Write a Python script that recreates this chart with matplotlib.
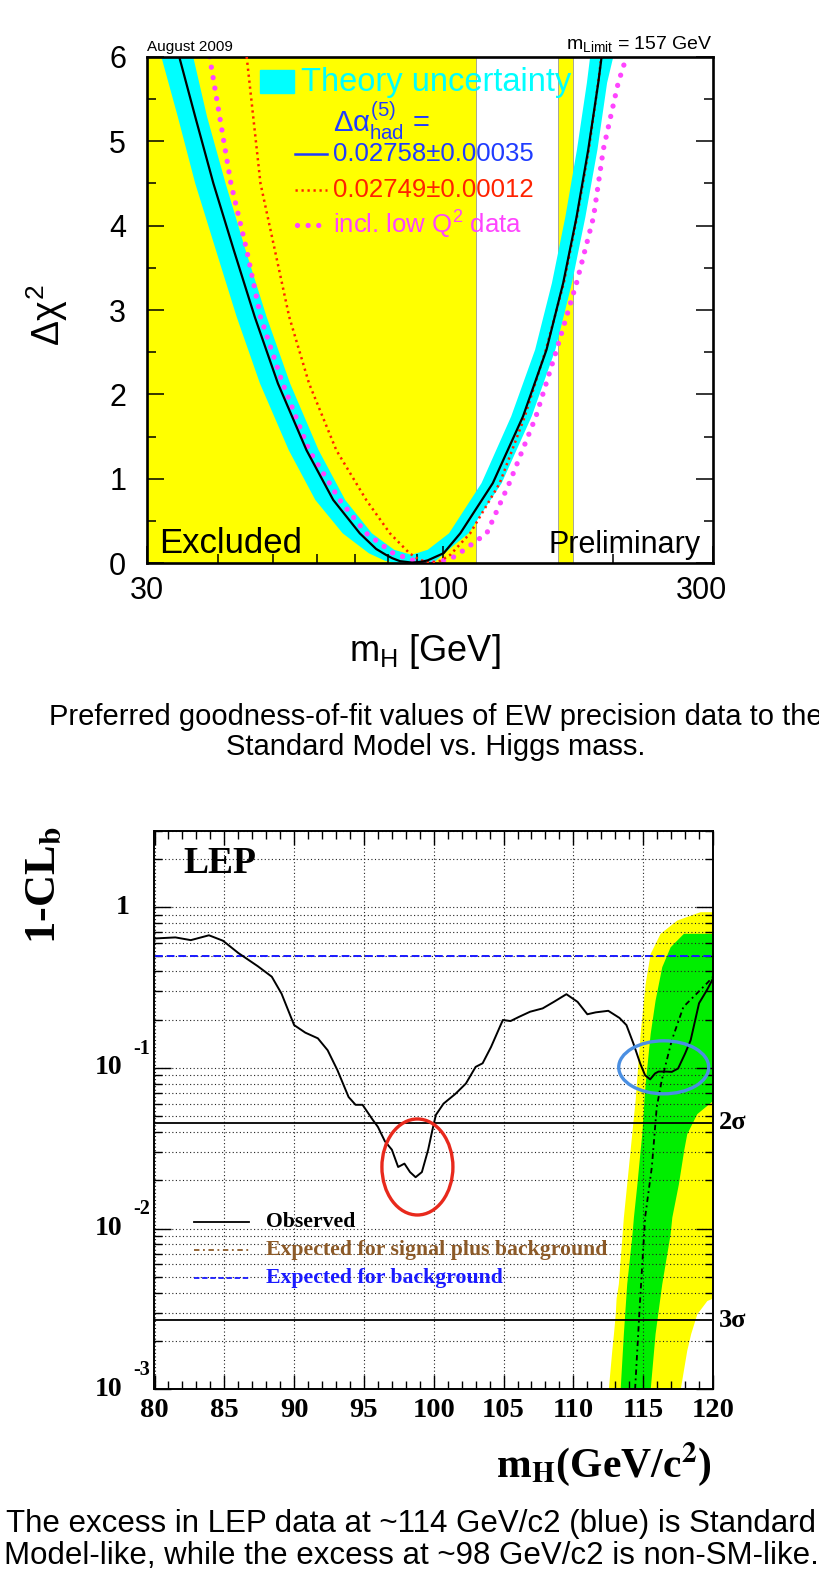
import numpy as np
import matplotlib
matplotlib.use("Agg")
import matplotlib.pyplot as plt
import matplotlib.transforms as mtransforms
from matplotlib.patches import Ellipse, Rectangle
from matplotlib.ticker import FixedLocator, LogLocator, NullFormatter

plt.rcParams['font.family'] = ['Liberation Sans', 'DejaVu Sans']
plt.rcParams['mathtext.fontset'] = 'custom'
plt.rcParams['mathtext.rm'] = 'Liberation Sans'
plt.rcParams['mathtext.it'] = 'Liberation Sans'
plt.rcParams['mathtext.bf'] = 'Liberation Sans:bold'

# ---------------- top panel: blue-band plot (Delta chi^2 vs mH) ----------------
lep_limit = 114.4
tev_excl = (160.0, 170.0)

mh_fit = [34.2, 36.5, 39.3, 42.7, 46.5, 51.1, 57.4, 64.0, 71.3, 76.2, 79.3, 81.4, 84.0,
          88.2, 92.0, 94.0, 100.3, 107.3, 122.5, 138.5, 152.4, 163.1, 172.2, 180.6,
          188.1, 190.7]
chi2_fit = [6.0, 5.29, 4.5, 3.71, 2.92, 2.13, 1.34, 0.75, 0.355, 0.17, 0.1, 0.06, 0.025,
            0.008, 0.02, 0.035, 0.12, 0.355, 0.95, 1.74, 2.53, 3.32, 4.1, 4.9, 5.69, 6.0]

# theory band: outer edge (left branch down, right branch up) and inner edge
band_out_mh = [31.8, 34.0, 36.5, 39.7, 43.2, 47.5, 53.4, 59.5, 66.5, 74.0, 79.0, 83.0,
               96.0, 104.0, 111.0, 127.0, 143.5, 158.0, 169.0, 178.5, 187.5, 195.0, 200.0]
band_out_chi2 = [6.0, 5.29, 4.5, 3.71, 2.92, 2.13, 1.34, 0.75, 0.355, 0.118, 0.03, 0.0,
                 0.0, 0.2, 0.355, 0.95, 1.74, 2.53, 3.32, 4.1, 4.9, 5.69, 6.0]
band_in_mh = [36.2, 38.3, 41.3, 44.8, 48.8, 53.7, 60.3, 67.2, 74.9, 82.0, 88.0, 94.0,
              102.5, 117.0, 132.0, 145.5, 155.8, 164.5, 172.5, 179.6, 182.0]
band_in_chi2 = [6.0, 5.29, 4.5, 3.71, 2.92, 2.13, 1.34, 0.75, 0.355, 0.16, 0.1, 0.16,
                0.355, 0.95, 1.74, 2.53, 3.32, 4.1, 4.9, 5.69, 6.0]

mh_alt = [45.0, 47.6, 53.5, 58.0, 64.8, 73.2, 80.6, 87.3, 91.0, 95.0, 99.0, 103.0,
          111.7, 126.0, 139.5, 152.0, 163.5, 172.5, 181.0, 188.0, 190.5]
chi2_alt = [6.0, 4.5, 2.92, 2.13, 1.34, 0.75, 0.355, 0.118, 0.04, 0.01, 0.03, 0.1,
            0.355, 0.95, 1.74, 2.53, 3.32, 4.1, 4.9, 5.69, 6.0]

mh_lowq = [38.7, 42.2, 45.0, 47.6, 52.1, 58.0, 65.7, 73.2, 81.7, 90.0, 97.0, 105.0,
           119.5, 131.0, 146.0, 158.8, 172.2, 184.5, 192.0, 204.0, 211.0]
chi2_lowq = [6.0, 4.5, 3.71, 2.92, 2.13, 1.34, 0.75, 0.355, 0.118, 0.02, 0.0, 0.08,
             0.355, 0.95, 1.74, 2.53, 3.32, 4.1, 4.9, 5.69, 6.0]

# ---------------- bottom panel: LEP 1-CLb ----------------
mh_obs = [80.0, 81.5, 82.6, 83.9, 84.9, 86.0, 87.4, 88.4, 89.1, 90.0, 90.8, 91.7, 92.4,
          93.1, 93.9, 94.4, 94.9, 95.6, 96.0, 96.5, 97.0, 97.45, 97.9, 98.3, 98.7, 99.15,
          99.6, 99.9, 100.15, 100.7, 101.55, 102.3, 103.0, 103.5, 104.1, 104.95, 105.5,
          106.1, 106.9, 107.8, 108.6, 109.5, 110.3, 111.0, 111.6, 112.5, 113.3, 113.8,
          114.3, 114.78, 115.14, 115.5, 115.85, 116.1, 116.6, 117.05, 117.5, 118.0,
          118.4, 119.0, 119.56, 120.0]
clb_obs = [0.64, 0.65, 0.625, 0.67, 0.62, 0.52, 0.43, 0.37, 0.29, 0.185, 0.166, 0.153,
           0.129, 0.097, 0.066, 0.059, 0.059, 0.048, 0.043, 0.035, 0.031, 0.0242, 0.0254,
           0.0225, 0.0209, 0.0225, 0.031, 0.041, 0.051, 0.06, 0.069, 0.08, 0.1016, 0.107,
           0.135, 0.199, 0.196, 0.208, 0.224, 0.235, 0.258, 0.288, 0.258, 0.216, 0.222,
           0.227, 0.205, 0.185, 0.142, 0.107, 0.09, 0.085, 0.0925, 0.095, 0.095, 0.0946,
           0.0993, 0.123, 0.149, 0.253, 0.305, 0.36]

mh_sb = [114.42, 114.78, 115.14, 115.62, 115.97, 116.33, 117.05, 117.88, 118.84, 119.67, 120.0]
clb_sb = [0.001, 0.0036, 0.0118, 0.0242, 0.057, 0.084, 0.149, 0.24, 0.291, 0.344, 0.37]

mh_b = [80.0, 120.0]
clb_b = [0.5, 0.5]

# +-2 sigma (yellow) and +-1 sigma (green) bands, given as mH edges per 1-CLb level
y2_lvl = [0.001, 0.00175, 0.00222, 0.00295, 0.00357, 0.0037, 0.00454, 0.0118, 0.0308,
          0.063, 0.164, 0.336, 0.517, 0.689, 0.834, 0.94]
y2_lo = [112.5, 112.75, 112.87, 113.0, 113.05, 113.06, 113.22, 113.58, 114.06,
         114.42, 114.78, 115.14, 115.5, 116.21, 117.41, 119.08]
y2_hi = [117.65, 118.12, 118.4, 118.84, 119.56, 120.0, 120.0, 120.0, 120.0,
         120.0, 120.0, 120.0, 120.0, 120.0, 120.0, 120.0]

y1_lvl = [0.001, 0.00222, 0.00454, 0.0093, 0.0118, 0.019, 0.0308, 0.039, 0.052, 0.063,
          0.08, 0.164, 0.264, 0.427, 0.568, 0.689]
y1_lo = [113.35, 113.58, 113.82, 114.2, 114.3, 114.55, 114.78, 114.9, 115.0, 115.05,
         115.14, 115.5, 115.85, 116.33, 116.93, 117.88]
y1_hi = [115.5, 115.85, 116.33, 116.93, 117.05, 117.52, 117.9, 118.12, 118.84, 120.0,
         120.0, 120.0, 120.0, 120.0, 120.0, 120.0]

cl_2sigma = 0.0455
cl_3sigma = 0.0027
excess_sm = (116.47, 0.101)     # blue ring
excess_nonsm = (98.83, 0.0242)  # red ring

W, H = 820, 1579
fig = plt.figure(figsize=(W / 100, H / 100), dpi=100)

# ======================= top panel =======================
ax1 = fig.add_axes([147 / W, 1 - 563.3 / H, 566 / W, 506.6 / H])
ax1.set_xscale('log')
ax1.set_xlim(30, 300)
ax1.set_ylim(0, 6)

ax1.axvspan(30, lep_limit, facecolor='#ffff00', edgecolor='#999999', lw=0.6, zorder=0)
ax1.axvspan(tev_excl[0], tev_excl[1], facecolor='#ffff00', edgecolor='#999999', lw=0.6, zorder=0)

px = band_out_mh + band_in_mh[::-1]
py = band_out_chi2 + band_in_chi2[::-1]
ax1.fill(px, py, color='#00ffff', lw=0, zorder=1)

ax1.plot(mh_lowq, chi2_lowq, color='#ff44ff', lw=3.8, ls=(0, (0.01, 2.0)),
         dash_capstyle='round', zorder=2)
ax1.plot(mh_alt, chi2_alt, color='#ff2200', lw=1.8, ls=(0, (0.9, 1.5)), zorder=3)
ax1.plot(mh_fit, chi2_fit, color='black', lw=1.6, zorder=4)

ax1.xaxis.set_major_locator(FixedLocator([30, 100, 300]))
ax1.xaxis.set_minor_locator(FixedLocator([40, 50, 60, 70, 80, 90, 200]))
ax1.xaxis.set_minor_formatter(NullFormatter())
ax1.set_xticklabels(['30', '100', '300'])
ax1.set_yticks(range(0, 7))
ax1.set_yticks(np.arange(0.5, 6, 1.0), minor=True)
ax1.tick_params(which='both', direction='in', top=False, right=True, width=1.1,
                labelsize=22)
ax1.tick_params(which='major', length=12)
ax1.tick_params(which='minor', length=6.3)
ax1.tick_params(axis='y', pad=15)
ax1.tick_params(axis='x', pad=9)
for s in ax1.spines.values():
    s.set_linewidth(1.9)
shift = mtransforms.ScaledTranslation(-0.12, 0, fig.dpi_scale_trans)
lab = ax1.get_xticklabels()[-1]
lab.set_transform(lab.get_transform() + shift)

def a1(xp, yp):
    return ((xp - 147) / 566, (563.3 - yp) / 506.6)

ax1.add_patch(Rectangle(a1(260, 93), 33.7 / 566, 23 / 506.6, transform=ax1.transAxes,
                        color='#00ffff', zorder=5))
ax1.text(*a1(301, 82), 'Theory uncertainty', transform=ax1.transAxes, color='#00ffff',
         fontsize=23.5, va='center', zorder=5)
ax1.text(*a1(333, 121), r'$\Delta\alpha^{(5)}_{\rm had}$ =', transform=ax1.transAxes,
         color='#1f3cff', fontsize=21, va='center', zorder=5)
ax1.plot([a1(295, 0)[0], a1(327, 0)[0]], [a1(0, 154)[1]] * 2, transform=ax1.transAxes,
         color='#1f3cff', lw=1.8, zorder=5)
ax1.text(*a1(333, 154), '0.02758\u00b10.00035', transform=ax1.transAxes,
         color='#1f3cff', fontsize=18.5, va='center', zorder=5)
ax1.plot([a1(295, 0)[0], a1(327, 0)[0]], [a1(0, 190)[1]] * 2, transform=ax1.transAxes,
         color='#ff2200', lw=1.8, ls=(0, (0.9, 1.5)), zorder=5)
ax1.text(*a1(333, 190), '0.02749\u00b10.00012', transform=ax1.transAxes,
         color='#ff2200', fontsize=18.5, va='center', zorder=5)
ax1.plot([a1(297, 0)[0], a1(327, 0)[0]], [a1(0, 225)[1]] * 2, transform=ax1.transAxes,
         color='#ff44ff', lw=3.8, ls=(0, (0.01, 2.0)), dash_capstyle='round', zorder=5)
ax1.text(*a1(333, 225), r'incl. low Q$^2$ data', transform=ax1.transAxes,
         color='#ff44ff', fontsize=18.5, va='center', zorder=5)
ax1.text(*a1(159, 553), 'Excluded', transform=ax1.transAxes, fontsize=25,
         va='baseline', zorder=5)
ax1.text(*a1(701, 553), 'Preliminary', transform=ax1.transAxes, fontsize=22,
         va='baseline', ha='right', zorder=5)

fig.text(147 / W, 1 - 51 / H, 'August 2009', fontsize=11, va='baseline')
fig.text(712 / W, 1 - 49 / H, r'm$_{\rm Limit}$ = 157 GeV', fontsize=14,
         va='baseline', ha='right')
fig.text(47 / W, 1 - 315 / H, r'$\Delta\chi^2$', fontsize=27, rotation=90,
         ha='center', va='center')
fig.text(425 / W, 1 - 652 / H, r'm$_{\rm H}$ [GeV]', fontsize=26, ha='center', va='center')
fig.text(436 / W, 1 - 732 / H,
         'Preferred goodness-of-fit values of EW precision data to the\n'
         'Standard Model vs. Higgs mass.', fontsize=21, ha='center', va='center',
         linespacing=1.07)

# ======================= bottom panel =======================
serif = {'family': 'Liberation Serif', 'weight': 'bold'}
ax2 = fig.add_axes([154.5 / W, 1 - 1389.3 / H, 558.5 / W, 558.6 / H])
ax2.set_yscale('log')
ax2.set_xlim(80, 120)
ax2.set_ylim(1e-3, 3)

ax2.fill_betweenx(y2_lvl, y2_lo, y2_hi, color='#ffff00', lw=0, zorder=0)
ax2.fill_betweenx(y1_lvl, y1_lo, y1_hi, color='#00ee00', lw=0, zorder=0.5)

ax2.set_xticks(np.arange(80, 121, 5))
ax2.set_xticks(np.arange(80, 121, 1), minor=True)
ax2.yaxis.set_major_locator(LogLocator(base=10, numticks=10))
ax2.yaxis.set_minor_locator(LogLocator(base=10, subs=np.arange(2, 10), numticks=20))
ax2.yaxis.set_major_formatter(NullFormatter())
ax2.yaxis.set_minor_formatter(NullFormatter())
ax2.grid(True, which='major', axis='x', color='#222222', lw=0.8, ls=(0, (1, 2.2)))
ax2.grid(True, which='both', axis='y', color='#222222', lw=0.8, ls=(0, (1, 2.2)))
for gl in ax2.get_xgridlines() + ax2.get_ygridlines():
    gl.set_zorder(1)

ax2.axhline(cl_2sigma, color='black', lw=1.3, zorder=2)
ax2.axhline(cl_3sigma, color='black', lw=1.3, zorder=2)
ax2.plot(mh_b, clb_b, color='#1a1aff', lw=1.4, ls=(0, (4, 2)), zorder=3)
ax2.plot(mh_sb, clb_sb, color='black', lw=1.3, ls=(0, (3, 2, 1, 2)), zorder=3)
ax2.plot(mh_obs, clb_obs, color='black', lw=1.4, zorder=4)

ax2.tick_params(which='both', direction='in', top=True, right=True, width=1.0)
ax2.tick_params(axis='x', which='major', length=10, pad=6)
ax2.tick_params(axis='x', which='minor', length=5.5)
ax2.tick_params(axis='y', which='major', length=12)
ax2.tick_params(axis='y', which='minor', length=6)
ax2.set_xticklabels([str(v) for v in range(80, 121, 5)], fontdict=serif, fontsize=20.5)
for s in ax2.spines.values():
    s.set_linewidth(1.4)
    s.set_zorder(6)

ytr = ax2.get_yaxis_transform()
ytr_up = mtransforms.offset_copy(ytr, fig=fig, x=0, y=14, units='points')
ax2.text(-0.044, 1.0, '1', transform=ytr, ha='right', va='center', fontsize=20, **serif)
for e in (-1, -2, -3):
    ax2.text(-0.058, 10.0 ** e, '10', transform=ytr, ha='right', va='center',
             fontsize=20, **serif)
    ax2.text(-0.0385, 10.0 ** e, '%d' % e, transform=ytr_up, ha='left', va='center',
             fontsize=14.5, **serif)
ax2.text(1.011, cl_2sigma, '2\u03c3', transform=ytr, ha='left', va='center',
         fontsize=19, **serif)
ax2.text(1.011, cl_3sigma, '3\u03c3', transform=ytr, ha='left', va='center',
         fontsize=19, **serif)

ax2.text(0.051, 0.924, 'LEP', transform=ax2.transAxes, fontsize=27, va='baseline',
         **serif)

def a2(xp, yp):
    return ((xp - 154.5) / 558.5, (1389.3 - yp) / 558.6)

leg = [('Observed', 'black', 'black', '-', 1221.7),
       ('Expected for signal plus background', '#8c5a28', '#8c5a28', (0, (3, 2, 1, 2)), 1250),
       ('Expected for background', '#1a1aff', '#1a1aff', (0, (3, 1.5)), 1278)]
for txt, lc, tc, ls, yy in leg:
    x0, y0 = a2(193.7, yy)
    x1, _ = a2(249, yy)
    ax2.plot([x0, x1], [y0, y0], transform=ax2.transAxes, color=lc, ls=ls, lw=1.3, zorder=5)
    ax2.text(a2(266, yy)[0], y0, txt, transform=ax2.transAxes, color=tc, fontsize=15.7,
             va='center', zorder=5, **serif)

def ring(center, w, h, color):
    cx, cy = ax2.transAxes.inverted().transform(ax2.transData.transform(center))
    ax2.add_patch(Ellipse((cx, cy), w / 558.5, h / 558.6, transform=ax2.transAxes,
                          fill=False, edgecolor=color, lw=2.4, zorder=7))

ring(excess_nonsm, 71, 96, '#e8291c')
ring(excess_sm, 90, 53, '#4a8fe2')

fig.text(44 / W, 1 - 826 / H, r'1-CL$_{\mathbf{b}}$', rotation=90, ha='center', va='top',
         fontsize=32, math_fontfamily='stix', **serif)
fig.text(712 / W, 1 - 1477 / H, r'm$_{\mathbf{H}}$(GeV/c$^{\mathbf{2}}$)', ha='right',
         va='baseline', fontsize=30, math_fontfamily='stix', **serif)
fig.text(411.5 / W, 1 - 1540 / H,
         'The excess in LEP data at ~114 GeV/c2 (blue) is Standard\n'
         'Model-like, while the excess at ~98 GeV/c2 is non-SM-like.',
         fontsize=22.5, ha='center', va='center', linespacing=1.07)

fig.savefig('out.png', dpi=100)
